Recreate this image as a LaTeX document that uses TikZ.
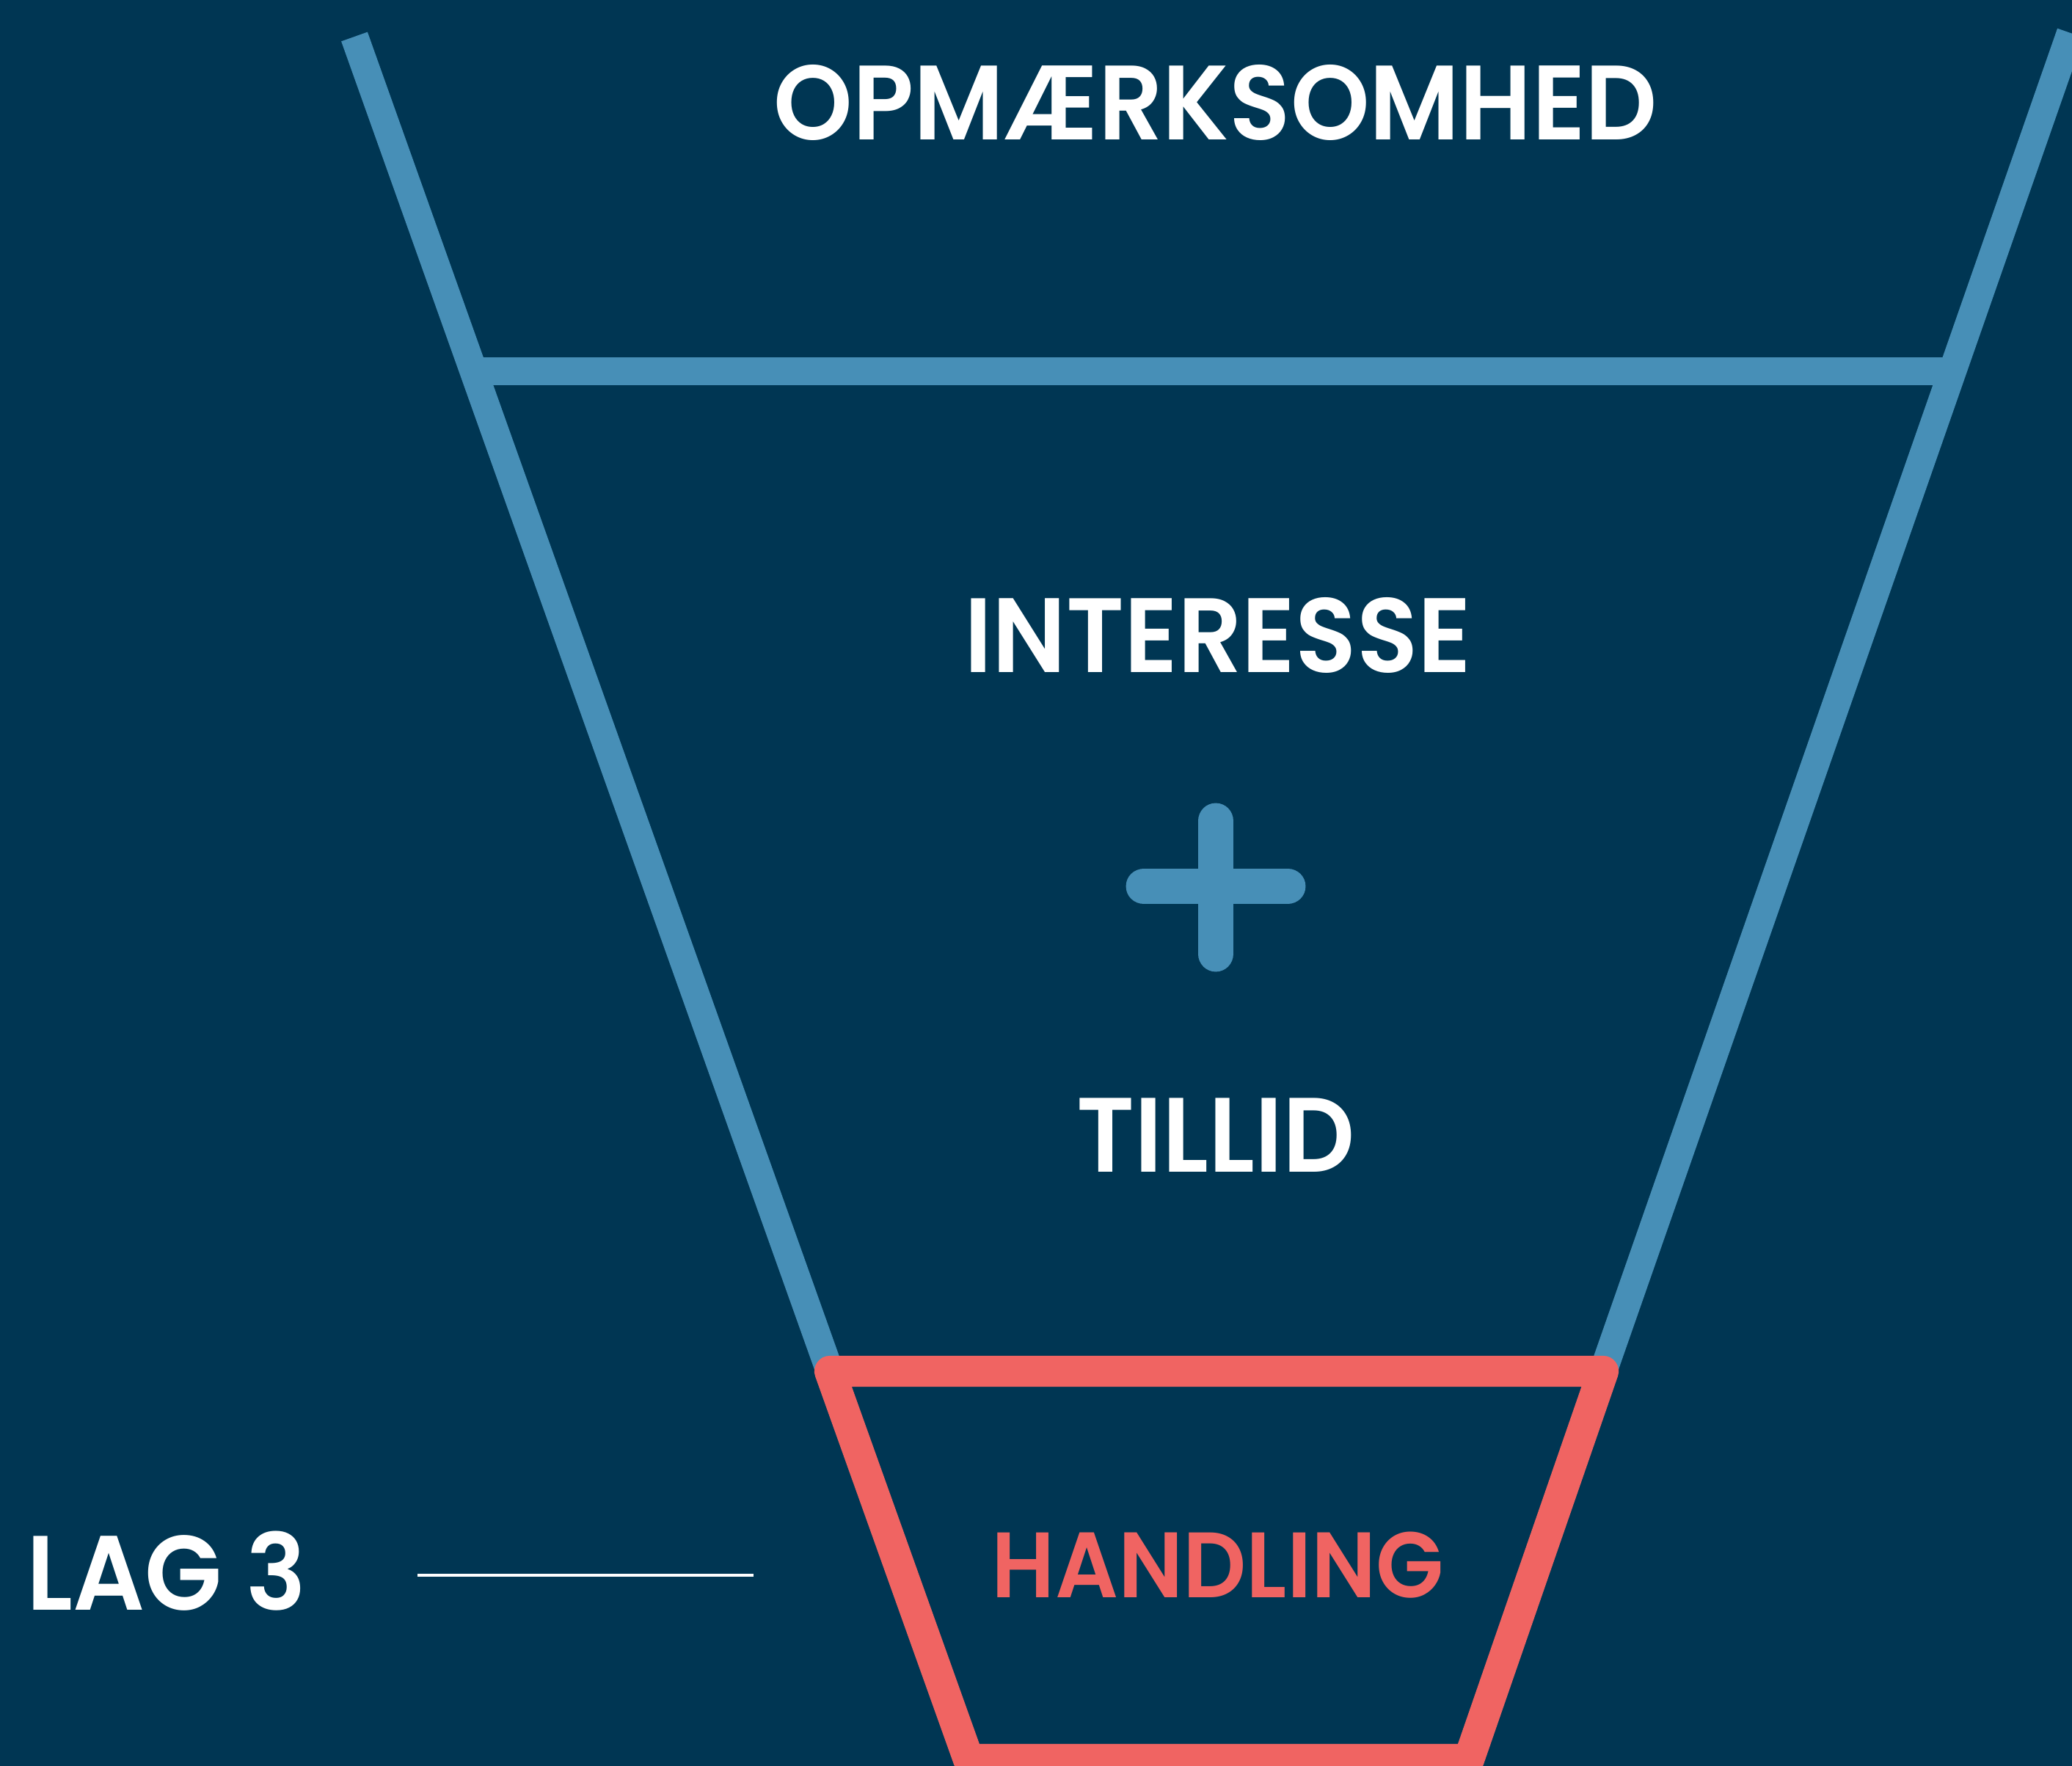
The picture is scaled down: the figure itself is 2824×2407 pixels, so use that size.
\documentclass[tikz,border=0pt]{standalone}
\usepackage{fontspec}
\setmainfont{Poppins}
\newfontfamily\stagefont{Poppins SemiBold}[FakeStretch=0.95]
\usepackage{tikz}
\usetikzlibrary{positioning}
\usepackage{xcolor}
\definecolor{fnnavy}{RGB}{0,54,83}
\definecolor{fnblue}{RGB}{71,143,183}
\definecolor{fnred}{RGB}{240,100,98}
\tikzstyle{stage} = [anchor=base, inner sep=0pt, text=white, font=\fontsize{41}{41}\stagefont]
\tikzstyle{funnel} = [line width=10.8pt, color=fnblue, line cap=butt]
\tikzstyle{actionbox} = [line width=12pt, color=fnred, line join=round]

\begin{document}
\begin{tikzpicture}[x=0.01cm, y=-0.01cm]
% background
\fill[fnnavy] (0,0) rectangle (2824,2407);
\useasboundingbox (0,0) rectangle (2824,2407);

% funnel sides
\coordinate (topL) at (483,50);
\coordinate (topR) at (2822,45);
\coordinate (midL) at (645,506);
\coordinate (midR) at (2662,506);
\coordinate (botL) at (1131,1869);
\coordinate (botR) at (2185,1869);
\draw[funnel] (topL) -- (botL);
\draw[funnel] (topR) -- (botR);
\draw[funnel] (midL) -- (midR);

% action layer
\coordinate (actL) at (1320,2398);
\coordinate (actR) at (2002,2398);
\draw[actionbox] (botL) -- (botR) -- (actR) -- (actL) -- cycle;

% labels
\node (awareness) [stage] at (1657,191) {OPMÆRKSOMHED};
\node (interest) [stage] at (1660,917) {INTERESSE};
\node (trust) [stage] at (1657,1597) {TILLID};
\node (action) [stage, text=fnred, font=\fontsize{36}{36}\stagefont] at (1660,2177) {HANDLING};

% plus sign
\coordinate (plusC) at (1657,1208);
\draw[fnblue, line width=13.9pt, line cap=round] (1657,1119) -- (1657,1300);
\draw[fnblue, line width=13.9pt, line cap=round] (1559,1208) -- (1755,1208);

% layer tag
\node (layer) [stage, anchor=base west] at (36,2194) {LAG 3};
\coordinate (tagA) at (569,2147);
\coordinate (tagB) at (1027,2147);
\draw[white, line width=1.4pt] (tagA) -- (tagB);
\end{tikzpicture}
\end{document}
